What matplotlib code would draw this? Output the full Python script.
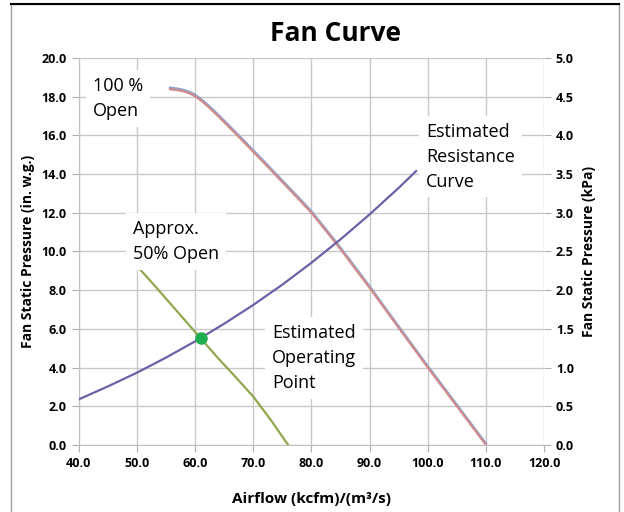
import matplotlib.pyplot as plt
from matplotlib.patches import Rectangle

plt.rcParams['font.family'] = ['Open Sans', 'DejaVu Sans']

# 100 % open fan curve
fan_x = [55.7, 57, 58, 59, 60, 61, 62, 63, 64, 65, 66, 68, 70, 72, 74, 76, 78,
         80, 82, 84, 86, 88, 90, 95, 100, 105, 110]
fan_y = [18.38, 18.33, 18.27, 18.17, 18.02, 17.8, 17.55, 17.27, 16.98, 16.68, 16.38,
         15.77, 15.15, 14.53, 13.9, 13.27, 12.64, 12.0, 11.25, 10.5, 9.72, 8.92,
         8.12, 6.05, 4.0, 2.0, 0.0]

# estimated system resistance curve
res_x = [40, 45, 50, 55, 60, 65, 70, 75, 80, 85, 90, 95, 98]
res_y = [2.35, 3.02, 3.73, 4.51, 5.35, 6.26, 7.23, 8.28, 9.41, 10.62, 11.91, 13.28, 14.15]

# approx. 50 % open curve
half_x = [50.4, 53, 56, 59, 61, 64, 67, 70, 73, 76]
half_y = [9.12, 8.25, 7.22, 6.19, 5.5, 4.47, 3.5, 2.5, 1.3, 0.0]

op_x, op_y = 61.0, 5.5

fig = plt.figure(figsize=(6.24, 5.12), dpi=100)
ax = fig.add_axes([0.126, 0.131, 0.746, 0.756])

ax.plot(fan_x, [v + 0.08 for v in fan_y], color='#8ea2cc', lw=1.6, zorder=3)
ax.plot(fan_x, fan_y, color='#d08c8c', lw=1.6, zorder=3)
ax.plot(res_x, res_y, color='#6f5fa6', lw=1.6, zorder=3)
ax.plot(half_x, half_y, color='#8fa84e', lw=1.6, zorder=3)
ax.plot([op_x], [op_y], 'o', color='#1fae4f', ms=8, zorder=4)

ax.set_xlim(40, 120)
ax.set_ylim(0, 20)
ax.set_xticks(range(40, 121, 10))
ax.set_yticks(range(0, 21, 2))
ax.set_xticklabels([f'{v:.1f}' for v in range(40, 121, 10)])
ax.set_yticklabels([f'{v:.1f}' for v in range(0, 21, 2)])
ax.grid(True, color='#c8c8c8', lw=1)
ax.set_axisbelow(True)
for s in ['top', 'right']:
    ax.spines[s].set_visible(False)
for s in ['left', 'bottom']:
    ax.spines[s].set_color('#c0c0c0')
ax.tick_params(colors='#b0b0b0', length=5, labelcolor='black', labelsize=9)
for lbl in ax.get_xticklabels() + ax.get_yticklabels():
    lbl.set_fontweight('bold')

ax2 = ax.twinx()
ax2.set_ylim(0, 5)
ax2.set_yticks([i * 0.5 for i in range(11)])
ax2.set_yticklabels([f'{i * 0.5:.1f}' for i in range(11)])
for s in ['top', 'left', 'bottom', 'right']:
    ax2.spines[s].set_visible(False)
ax2.tick_params(colors='#b0b0b0', length=5, labelcolor='black', labelsize=9)
for lbl in ax2.get_yticklabels():
    lbl.set_fontweight('bold')

ax.set_ylabel('Fan Static Pressure (in. w.g.)', fontsize=10, fontweight='bold', labelpad=5)
ax2.set_ylabel('Fan Static Pressure (kPa)', fontsize=10, fontweight='bold', labelpad=6)
ax.set_xlabel('Airflow (kcfm)/(m³/s)', fontsize=11, fontweight='bold', labelpad=16)
fig.text(0.537, 0.935, 'Fan Curve', ha='center', va='center', fontsize=19, fontweight='bold')

box = dict(facecolor='white', edgecolor='none', pad=5)
kw = dict(fontsize=13, va='center', ha='left', linespacing=1.5, bbox=box, zorder=5)
ax.text(42.5, 17.9, '100 %\nOpen', **kw)
ax.text(49.3, 10.5, 'Approx.\n50% Open', **kw)
ax.text(99.7, 14.9, 'Estimated\nResistance\nCurve', **kw)
ax.text(73.2, 4.5, 'Estimated\nOperating\nPoint', **kw)

# outer frame
fig.add_artist(Rectangle((0.017, -0.01), 0.975, 1.002, transform=fig.transFigure,
                         fill=False, edgecolor='#a0a0a0', lw=1))
fig.add_artist(plt.Line2D([0.017, 0.992], [0.992, 0.992], transform=fig.transFigure,
                          color='black', lw=1.5))

fig.savefig('out.png', dpi=100)
